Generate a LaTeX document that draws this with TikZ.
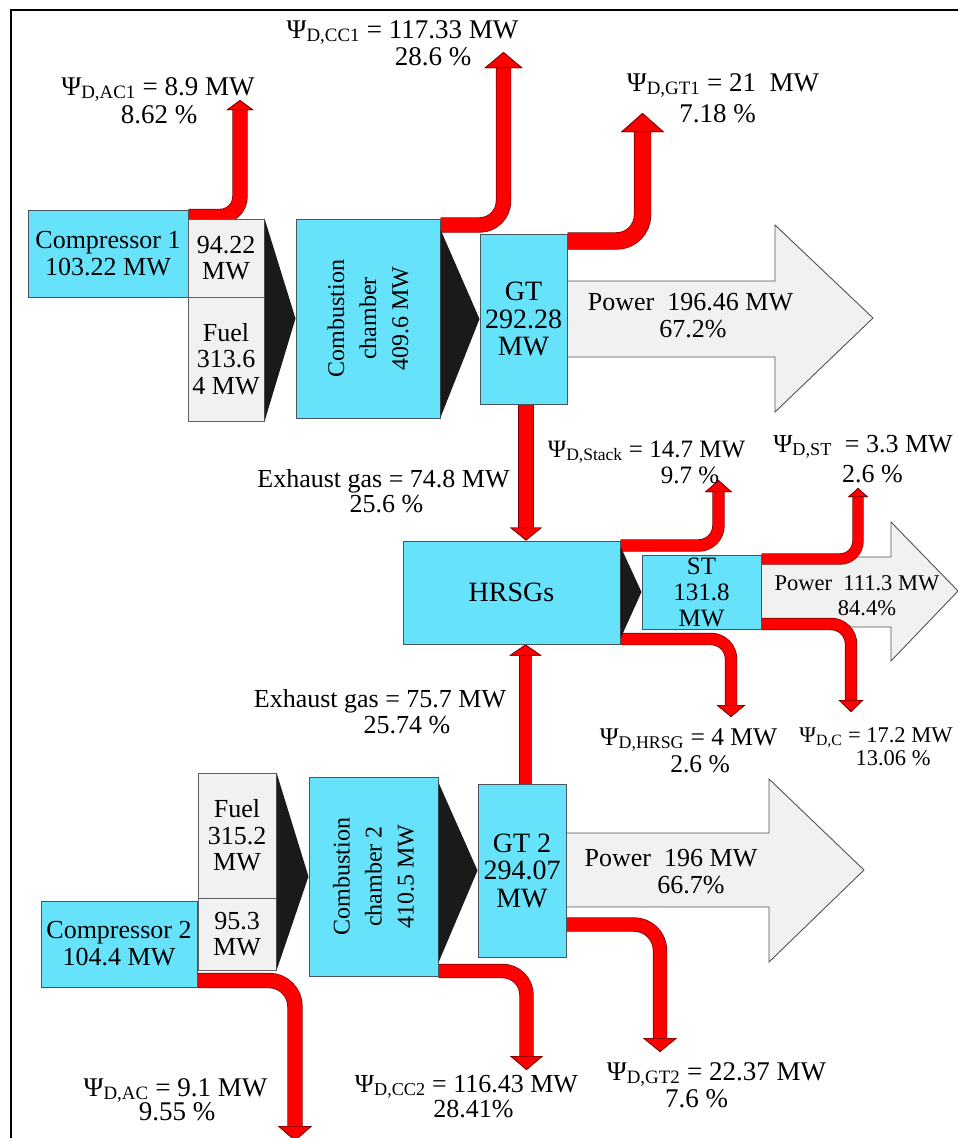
\documentclass[tikz,border=0pt]{standalone}
\usepackage{fontspec}
\setmainfont{Liberation Serif}
\usetikzlibrary{arrows.meta,calc}
\pgfdeclarelayer{bg}
\pgfsetlayers{bg,main}
\definecolor{boxcyan}{RGB}{102,227,250}
\definecolor{boxgray}{RGB}{241,241,241}
\definecolor{lossred}{RGB}{255,0,0}
\definecolor{lossedge}{RGB}{120,0,0}
\definecolor{chev}{RGB}{26,26,26}
\definecolor{edgecol}{RGB}{70,84,94}
\newcommand{\lossname}[1]{Ψ\textsubscript{#1}}
\begin{document}
\begin{tikzpicture}[x=1pt,y=-1pt,
  cbox/.style={draw=edgecol, line width=1pt, fill=boxcyan, inner sep=0pt, align=center, font=\fontsize{26}{27}\selectfont},
  gbox/.style={draw=gray!75!black, line width=1pt, fill=boxgray, inner sep=0pt, align=center, font=\fontsize{26}{26.5}\selectfont},
  chevron/.style={fill=chev},
  powerarrow/.style={fill=boxgray, draw=gray!65!black, line width=0.9pt},
  stream/.style n args={3}{draw=lossred, line width=#1pt, line cap=butt,
    -{Triangle[width=#2pt,length=#3pt,line width=0.7pt,color=lossedge,fill=lossred]},
    preaction={draw=lossedge, line width=#1pt+1.4pt, -{Triangle[width=#2pt,length=#3pt,line width=0pt,color=lossedge]}}},
  lbl/.style={anchor=base, inner sep=0pt, font=\fontsize{#1}{#1}\selectfont},
  lbl/.default=27,
  rottxt/.style={rotate=90, align=center, inner sep=0pt, font=\fontsize{24}{32}\selectfont}
  ]
\useasboundingbox (0,0) rectangle (958,1138);

% frame
\draw[line width=2.2pt] (11,1140) -- (11,10) -- (960,10);

% boxes
\node[cbox, minimum width=160pt, minimum height=87pt] (comp1) at (108,253.5) {Compressor 1\\103.22 MW};
\node[gbox, minimum width=76pt, minimum height=78pt] (a1) at (226,258) {94.22\\MW};
\node[gbox, minimum width=76pt, minimum height=124pt] (fuel1) at (226,359) {Fuel\\313.6\\4 MW};
\node[cbox, minimum width=144pt, minimum height=199pt] (cc1) at (368,318.5) {};
\node[rottxt] (cc1txt) at (cc1.center) {Combustion\\chamber\\409.6 MW};
\node[cbox, minimum width=87pt, minimum height=170pt, font=\fontsize{28}{27.5}\selectfont] (gt1) at (523.5,319) {GT\\292.28\\MW};
\node[cbox, minimum width=217pt, minimum height=103pt, font=\fontsize{28}{28}\selectfont] (hrsg) at (511.5,592.5) {HRSGs};
\node[cbox, minimum width=119pt, minimum height=74pt, font=\fontsize{25}{26}\selectfont] (st) at (701.5,592) {ST\\131.8\\MW};
\node[gbox, minimum width=78pt, minimum height=125pt] (fuel2) at (237,835.5) {Fuel\\315.2\\MW};
\node[gbox, minimum width=78pt, minimum height=72pt] (a2) at (237,934) {95.3\\MW};
\node[cbox, minimum width=156pt, minimum height=86pt] (comp2) at (119,944) {Compressor 2\\104.4 MW};
\node[cbox, minimum width=129pt, minimum height=199pt] (cc2) at (373.5,876.5) {};
\node[rottxt] (cc2txt) at (cc2.center) {Combustion\\chamber 2\\410.5 MW};
\node[cbox, minimum width=88pt, minimum height=173pt, font=\fontsize{28}{27.5}\selectfont] (gt2) at (522,870.5) {GT 2\\294.07\\MW};

% chevrons
\fill[chevron] (a1.north east) -- (cc1.west) -- (fuel1.south east) -- cycle;
\fill[chevron] ([yshift=-11pt]cc1.north east) -- (gt1.west) -- ([yshift=1pt]cc1.south east) -- cycle;
\fill[chevron] (fuel2.north east) -- (cc2.west) -- (a2.south east) -- cycle;
\fill[chevron] ([yshift=-6pt]cc2.north east) -- (gt2.west) -- ([yshift=14pt]cc2.south east) -- cycle;
\fill[chevron] ([yshift=-6pt]hrsg.north east) -- (st.west) -- ([yshift=6pt]hrsg.south east) -- cycle;

% loss end points
\coordinate (tac1) at (240,100);
\coordinate (tcc1) at (503.5,52);
\coordinate (tgt1) at (642.5,113);
\coordinate (tstk) at (718.5,480);
\coordinate (thr) at (731,717);
\coordinate (tst) at (858,488);
\coordinate (tc) at (851,712);
\coordinate (tac2) at (295,1141);
\coordinate (tcc2) at (526.5,1070);
\coordinate (tgt2) at (660,1052);

\begin{pgfonlayer}{bg}
\fill[white] (0,0) rectangle (958,1138);
% power arrows
\draw[powerarrow] (gt1.east |- {(0,281)}) -- (775,281) -- (775,225) -- (873,318) -- (775,412) -- (775,357) -- (gt1.east |- {(0,357)}) -- cycle;
\draw[powerarrow] (st.east |- {(0,557)}) -- (891,557) -- (891,522) -- (958,591) -- (891,661) -- (891,627) -- (st.east |- {(0,627)}) -- cycle;
\draw[powerarrow] (gt2.east |- {(0,833)}) -- (769,833) -- (769,779) -- (864,870) -- (769,962) -- (769,907) -- (gt2.east |- {(0,907)}) -- cycle;

% exergy destruction streams
\draw[stream={14}{27}{10}, rounded corners=20pt] ([yshift=-7pt]comp1.north east) -| (tac1);
\draw[stream={14}{38}{16}, rounded corners=24pt] ([yshift=-6.5pt]cc1.north east) -| (tcc1);
\draw[stream={16}{43}{19}, rounded corners=26pt] ([yshift=-7.5pt]gt1.north east) -| (tgt1);
\draw[stream={14}{32}{13}] ([xshift=2.5pt]gt1.south) -- ([xshift=2.5pt]gt1.south |- hrsg.north);
\draw[stream={12}{32}{11}] ([xshift=3.5pt]gt2.north) -- ([xshift=3.5pt]gt2.north |- hrsg.south);
\draw[stream={11}{27}{12}, rounded corners=20pt] ([yshift=-5pt]hrsg.north east) -| (tstk);
\draw[stream={11}{29}{12}, rounded corners=20pt] ([yshift=5.5pt]hrsg.south east) -| (thr);
\draw[stream={10}{20}{9}, rounded corners=18pt] ([yshift=-4.5pt]st.north east) -| (tst);
\draw[stream={11}{25}{12}, rounded corners=20pt] ([yshift=5.5pt]st.south east) -| (tc);
\draw[stream={14}{34}{15}, rounded corners=26pt] ([yshift=7pt]comp2.south east) -| (tac2);
\draw[stream={13}{33}{14}, rounded corners=24pt] ([yshift=5.5pt]cc2.south east) -| (tcc2);
\draw[stream={13}{34}{14}, rounded corners=26pt] ([yshift=-54pt]gt2.east) -| (tgt2);
\end{pgfonlayer}

% labels
\node[lbl=27] (lac1a) at (158,95) {\lossname{D,AC1} = 8.9 MW};
\node[lbl=27] (lac1b) at (159,123) {8.62 \%};
\node[lbl=27] (lcc1a) at (402.5,38) {\lossname{D,CC1} = 117.33 MW};
\node[lbl=27] (lcc1b) at (433,65) {28.6 \%};
\node[lbl=27] (lgt1a) at (723,91) {\lossname{D,GT1} = 21~~MW};
\node[lbl=27] (lgt1b) at (717.5,122) {7.18 \%};
\node[lbl=26] (lp1a) at (690.5,310) {Power~~196.46 MW};
\node[lbl=26] (lp1b) at (693,337) {67.2\%};
\node[lbl=26] (lex1a) at (383.5,487) {Exhaust gas = 74.8 MW};
\node[lbl=26] (lex1b) at (386.5,512) {25.6 \%};
\node[lbl=25] (lstka) at (646.5,457) {\lossname{D,Stack} = 14.7 MW};
\node[lbl=25] (lstkb) at (690,483) {9.7 \%};
\node[lbl=26] (lsta) at (863,452) {\lossname{D,ST}~~= 3.3 MW};
\node[lbl=26] (lstb) at (872.5,482) {2.6 \%};
\node[lbl=22.5] (lp2a) at (857,590) {Power~~111.3 MW};
\node[lbl=22.5] (lp2b) at (867,615) {84.4\%};
\node[lbl=25.5] (lhra) at (688.5,745) {\lossname{D,HRSG} = 4 MW};
\node[lbl=25.5] (lhrb) at (700,772) {2.6 \%};
\node[lbl=22.5] (lca) at (876,742) {\lossname{D,C} = 17.2 MW};
\node[lbl=22.5] (lcb) at (893,765) {13.06 \%};
\node[lbl=26] (lex2a) at (380,707) {Exhaust gas = 75.7 MW};
\node[lbl=26] (lex2b) at (407,733) {25.74 \%};
\node[lbl=26] (lp3a) at (671,866) {Power~~196 MW};
\node[lbl=26] (lp3b) at (691,893) {66.7\%};
\node[lbl=27] (lac2a) at (175.5,1096) {\lossname{D,AC} = 9.1 MW};
\node[lbl=27] (lac2b) at (177,1120) {9.55 \%};
\node[lbl=26] (lcc2a) at (466.5,1092) {\lossname{D,CC2} = 116.43 MW};
\node[lbl=26] (lcc2b) at (473.5,1117) {28.41\%};
\node[lbl=27] (lgt2a) at (716.5,1080) {\lossname{D,GT2} = 22.37 MW};
\node[lbl=27] (lgt2b) at (696.5,1107) {7.6 \%};
\end{tikzpicture}
\end{document}
